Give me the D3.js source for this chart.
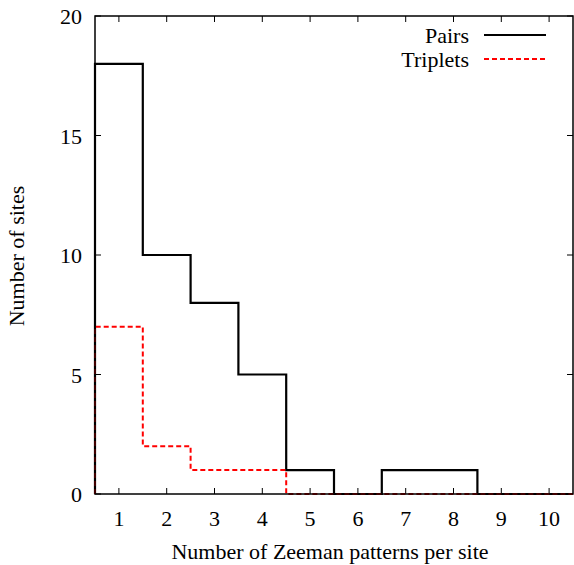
<!DOCTYPE html>
<html>
<head>
<meta charset="utf-8">
<script src="https://cdn.jsdelivr.net/npm/d3@7"></script>
<style>
  html, body { margin: 0; padding: 0; background: #fff; }
  svg { display: block; }
</style>
</head>
<body>
<svg id="chart" width="574" height="565"></svg>
<script>
// Histogram of Zeeman patterns per site
const patternsPerSite = [1, 2, 3, 4, 5, 6, 7, 8, 9, 10];
const pairs    = [18, 10, 8, 5, 1, 0, 1, 1, 0, 0];
const triplets = [7, 2, 1, 1, 0, 0, 0, 0, 0, 0];
const xTicks = [1, 2, 3, 4, 5, 6, 7, 8, 9, 10];
const yTicks = [0, 5, 10, 15, 20];
const seriesNames = ["Pairs", "Triplets"];

const FONT = "'Liberation Serif', 'Times New Roman', Times, 'DejaVu Serif', serif";
const FS = 22;

const svg = d3.select("#chart").attr("font-family", FONT);
const margin = { left: 95, right: 1, top: 16, bottom: 71 };
const W = 574, H = 565;

const x = d3.scaleLinear().domain([0.5, 10.5]).range([margin.left, W - margin.right]);
const y = d3.scaleLinear().domain([0, 20]).range([H - margin.bottom, margin.top]);

// step outline: rise from zero at the left edge, flat across each bin, drop at the right edge
function stepPoints(values) {
  const pts = [[0.5, 0]];
  values.forEach((v, i) => {
    pts.push([patternsPerSite[i] - 0.5, v]);
    pts.push([patternsPerSite[i] + 0.5, v]);
  });
  pts.push([10.5, 0]);
  return pts;
}
const line = d3.line().x(d => x(d[0])).y(d => y(d[1]));

function label(sel) {
  return sel.attr("font-family", FONT).attr("font-size", FS).attr("fill", "#000");
}

// tick marks (inward, on all four sides)
const tickLen = 6;
const g = svg.append("g");
xTicks.forEach(t => {
  g.append("line").attr("x1", x(t)).attr("x2", x(t))
    .attr("y1", y(0)).attr("y2", y(0) - tickLen).attr("stroke", "#000").attr("stroke-width", 1);
  g.append("line").attr("x1", x(t)).attr("x2", x(t))
    .attr("y1", y(20)).attr("y2", y(20) + tickLen).attr("stroke", "#000").attr("stroke-width", 1);
  label(g.append("text")).attr("x", x(t)).attr("y", y(0) + 32)
    .attr("text-anchor", "middle").text(t);
});
yTicks.forEach(t => {
  g.append("line").attr("x1", x(0.5)).attr("x2", x(0.5) + tickLen)
    .attr("y1", y(t)).attr("y2", y(t)).attr("stroke", "#000").attr("stroke-width", 1);
  g.append("line").attr("x1", x(10.5)).attr("x2", x(10.5) - tickLen)
    .attr("y1", y(t)).attr("y2", y(t)).attr("stroke", "#000").attr("stroke-width", 1);
  label(g.append("text")).attr("x", x(0.5) - 13).attr("y", y(t) + 8)
    .attr("text-anchor", "end").text(t);
});

// histograms
svg.append("path").attr("d", line(stepPoints(pairs)))
  .attr("fill", "none").attr("stroke", "#000").attr("stroke-width", 2.2);
svg.append("path").attr("d", line(stepPoints(triplets)))
  .attr("fill", "none").attr("stroke", "#ff0000").attr("stroke-width", 2)
  .attr("stroke-dasharray", "5,3");

// frame
svg.append("rect").attr("x", x(0.5)).attr("y", y(20))
  .attr("width", x(10.5) - x(0.5)).attr("height", y(0) - y(20))
  .attr("fill", "none").attr("stroke", "#000").attr("stroke-width", 1.5);

// legend
const legend = svg.append("g");
const legStyles = [
  { stroke: "#000", width: 2.2, dash: null },
  { stroke: "#ff0000", width: 2, dash: "5,3" }
];
seriesNames.forEach((name, i) => {
  const cy = 35 + i * 24;
  label(legend.append("text")).attr("x", 469).attr("y", cy + 8)
    .attr("text-anchor", "end").text(name);
  legend.append("line").attr("x1", 484).attr("x2", 546).attr("y1", cy).attr("y2", cy)
    .attr("stroke", legStyles[i].stroke).attr("stroke-width", legStyles[i].width)
    .attr("stroke-dasharray", legStyles[i].dash);
});

// axis titles
label(svg.append("text")).attr("x", 330).attr("y", 559)
  .attr("text-anchor", "middle").text("Number of Zeeman patterns per site");
label(svg.append("text")).attr("transform", `translate(24,256) rotate(-90)`)
  .attr("text-anchor", "middle").text("Number of sites");
</script>
</body>
</html>
